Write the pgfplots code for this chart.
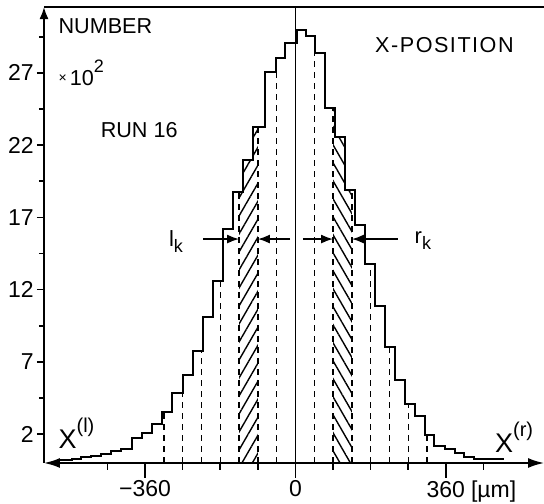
\documentclass[border=0pt]{standalone}
\usepackage{fontspec}
\setmainfont{Liberation Sans}
\usepackage{pgfplots}
\usepackage{pgfplotstable}
\pgfplotsset{compat=1.18}
\usetikzlibrary{arrows.meta,patterns.meta}

% histogram: left bin edge [um], count [x100]
\pgfplotstableread{
x y
-563 0.20
-535 0.30
-513 0.40
-489 0.50
-465 0.65
-441 0.80
-417 0.95
-391 1.73
-367 2.08
-343 2.70
-319 3.55
-295 4.84
-269 6.09
-245 7.75
-221 10.10
-197 12.60
-173 16.20
-150 18.75
-126 21.00
-102 23.25
-73 27.05
-47 28.00
-25 29.10
4 30.00
25 29.55
47 28.40
71 24.60
95 22.55
118 18.90
142 16.50
166 13.80
190 10.90
214 8.00
238 5.75
262 4.10
286 3.25
310 1.95
331 1.20
358 1.00
382 0.70
403 0.40
427 0.28
499 0.28
}\histdata

\begin{document}
\begin{tikzpicture}
\begin{axis}[
  scale only axis,
  width=250pt, height=228pt,
  xmin=-602, xmax=595, ymin=0, ymax=31.56,
  clip=false,
  axis x line*=bottom, axis y line*=left,
  axis line style={line width=0.9pt, black},
  x axis line style={{Latex[length=8pt,width=5pt]}-{Latex[length=8pt,width=5pt]}},
  y axis line style={-{Latex[length=6pt,width=4.5pt]}},
  tick align=outside,
  major tick length=3.5pt, minor tick length=2.5pt,
  tick style={line width=0.8pt, black},
  xtick={-450,-270,-180,-90,90,180,270,450},
  xticklabels={},
  extra x ticks={-360,0,360},
  extra x tick labels={−360,0,360\rlap{\hspace{3pt}[µm]}},
  extra tick style={major tick length=7.5pt},
  ytick={2,7,12,17,22,27},
  minor ytick={4.5,9.5,14.5,19.5,24.5,29.5},
  /pgf/number format/assume math mode=true,
  ticklabel style={font=\fontsize{11.5}{12}\selectfont},
  yticklabel style={inner xsep=1.5pt},
  xticklabel style={inner ysep=1pt},
]
% hatched strips
\addplot[const plot, draw=none, pattern={Lines[angle=60,distance=4.5pt,line width=0.7pt]}]
  coordinates {(-135,18.75) (-126,21.0) (-102,23.25) (-90,23.25)} \closedcycle;
\addplot[const plot, draw=none, pattern={Lines[angle=-60,distance=4.5pt,line width=0.7pt]}]
  coordinates {(90,24.6) (95,22.55) (118,18.9) (135,18.9)} \closedcycle;

% histogram
\addplot[const plot, line width=1pt, black] table {\histdata};

% dashed dividers
\addplot[ycomb, black, line width=0.7pt, dash pattern=on 3pt off 2.5pt]
  coordinates {(-315,3.55) (-270,4.84) (-225,7.75) (-180,12.6) (-135,18.75) (-90,23.25) (-45,27.05)
               (45,28.4) (90,24.6) (135,18.9) (180,13.8) (225,8.0) (270,4.1) (315,1.95)};

% centre line and top frame
\addplot[black, line width=0.9pt] coordinates {(0,0) (0,31.56)};
\addplot[black, line width=0.8pt] coordinates {(-602,31.56) (595,31.56)};

% l_k and r_k arrows
\draw[line width=0.8pt,-{Latex[length=6pt,width=4.5pt]}] (axis cs:-221,15.5) -- (axis cs:-135,15.5);
\draw[line width=0.8pt,-{Latex[length=6pt,width=4.5pt]}] (axis cs:-13,15.5) -- (axis cs:-90,15.5);
\draw[line width=0.8pt,-{Latex[length=6pt,width=4.5pt]}] (axis cs:18,15.5) -- (axis cs:90,15.5);
\draw[line width=0.8pt,-{Latex[length=6pt,width=4.5pt]}] (axis cs:245,15.5) -- (axis cs:135,15.5);

\node[font=\fontsize{11}{12}\selectfont] at (axis cs:-286,15.3) {l\raisebox{-0.5ex}{\small k}};
\node[font=\fontsize{11}{12}\selectfont] at (axis cs:305,15.4) {r\raisebox{-0.5ex}{\small k}};

% texts
\node[anchor=base west, inner sep=0, font=\fontsize{10.8}{12}\selectfont] at (axis cs:-568,29.76) {NUMBER};
\node[anchor=base west, inner sep=0, font=\fontsize{10.8}{12}\selectfont] at (axis cs:-568,26.16)
  {\raisebox{0.2ex}{\scriptsize ×}\hspace{1.5pt}10\raisebox{1.1ex}{\small 2}};
\node[anchor=base west, inner sep=0, font=\fontsize{10.8}{12}\selectfont] at (axis cs:-467,22.5) {RUN 16};
\node[anchor=base west, inner sep=0, font=\fontsize{10.8}{12}\selectfont\addfontfeature{LetterSpace=7}]
  at (axis cs:190,28.44) {X-POSITION};
\node[anchor=base west, inner sep=0, font=\fontsize{13.5}{14}\selectfont] at (axis cs:-568,0.97)
  {X\raisebox{8pt}{\fontsize{10}{10}\selectfont (l)}};
\node[anchor=base west, inner sep=0, font=\fontsize{13.5}{14}\selectfont] at (axis cs:477,0.76)
  {X\raisebox{8pt}{\fontsize{10}{10}\selectfont (r)}};
\end{axis}
\pgfresetboundingbox
\path[use as bounding box] ([xshift=-22pt,yshift=-20.5pt]current axis.south west)
  rectangle ([yshift=3.5pt]current axis.north east);
\end{tikzpicture}
\end{document}
